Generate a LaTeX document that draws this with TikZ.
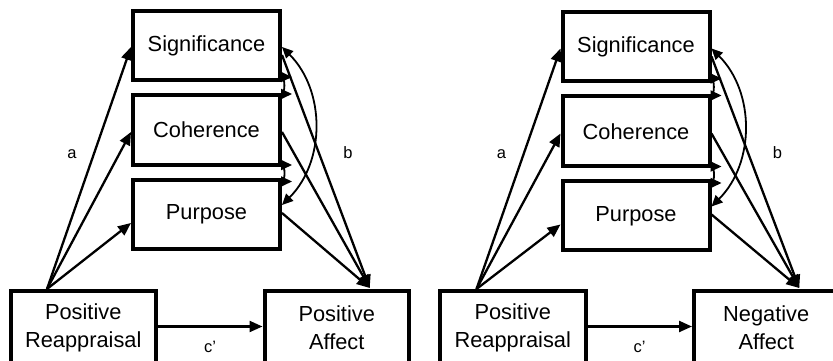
\documentclass[tikz,border=0pt]{standalone}
\usepackage{fontspec}
\setmainfont{Liberation Sans}
\usetikzlibrary{arrows.meta,calc}
\tikzset{
  box/.style={draw, line width=4pt, inner sep=0pt, minimum width=147pt, align=center,
    font=\fontsize{21.8}{28}\selectfont},
  lbl/.style={font=\fontsize{16.5}{18}\selectfont, inner sep=0pt},
  arr/.style={line width=2.3pt, -{Triangle[length=13pt,width=11pt]}},
  corr/.style={line width=1.8pt, {Triangle[length=11pt,width=10pt]}-{Triangle[length=11pt,width=10pt]}},
}
\newcommand\drawpanel[4]{%
  \node[box, minimum height=69pt] (#1sig) at ({206.5+#2},{315.5+#3}) {Significance};
  \node[box, minimum height=70pt] (#1coh) at ({206.5+#2},{231+#3}) {Coherence};
  \node[box, minimum height=69pt] (#1pur) at ({206.5+#2},{146.5+#3}) {Purpose};
  \node[box, minimum width=145.5pt, minimum height=74pt] (#1rea) at ({83.25+#2},33) {Positive\\Reappraisal};
  \node[box, minimum width=144.5pt, minimum height=74pt] (#1aff) at ({336.75+#2},33) {#4\\Affect};
  \coordinate (#1apex) at ($(#1rea.north west)+(38.5,0)$);
  \coordinate (#1tip) at ($(#1aff.north)+(33,1)$);
  \draw[arr] (#1apex) -- ($(#1sig.west)+(0,-1.5)$);
  \draw[arr] (#1apex) -- ($(#1coh.west)+(0,-2)$);
  \draw[arr] (#1apex) -- ($(#1pur.west)+(0,-8.5)$);
  \draw[arr] ($(#1sig.east)+(0,-9.5)$) -- (#1tip);
  \draw[arr] ($(#1coh.east)+(0,-2)$) -- (#1tip);
  \draw[arr] ($(#1pur.east)+(0,1.5)$) -- (#1tip);
  \draw[arr] ($(#1rea.east)+(0,1.5)$) -- ($(#1aff.west)+(0,1.5)$);
  \draw[corr] ($(#1sig.south east)+(10,5)$) to[out=180,in=180] ($(#1coh.north east)+(10,-1)$);
  \draw[corr] ($(#1coh.south east)+(10,2)$) to[out=180,in=180] ($(#1pur.north east)+(10,-3.5)$);
  \draw[corr] ($(#1sig.east)+(0,-1.5)$) to[out=-45,in=45,looseness=1] ($(#1pur.east)+(0,9.5)$);
  \node[lbl] (#1la) at ({72+#2},207) {a};
  \node[lbl] (#1lb) at ({348+#2},208) {b};
  \node[lbl] (#1lc) at ({210+#2},14) {c'};
}
\begin{document}
\begin{tikzpicture}[x=1pt,y=1pt]
  \useasboundingbox (0,0) rectangle (833,361);
  \fill[white] (0,0) rectangle (833,361);
  \clip (0,0) rectangle (833,361);
  \drawpanel{L}{0}{0}{Positive}
  \drawpanel{R}{429.5}{-1.5}{Negative}
\end{tikzpicture}
\end{document}
